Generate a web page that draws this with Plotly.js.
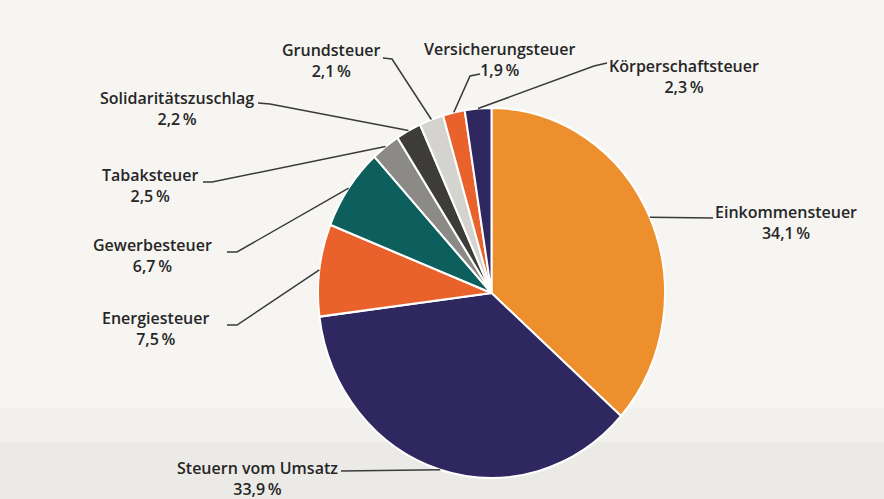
<!DOCTYPE html>
<html>
<head>
<meta charset="utf-8">
<script src="https://cdn.plot.ly/plotly-3.0.1.min.js"></script>
<style>
  html, body { margin: 0; padding: 0; background: #f6f5f2; }
  #chart { width: 884px; height: 499px; }
  #chart .pielayer { transform-origin: 491.5px 293px; transform: scaleY(1.066); }
</style>
</head>
<body>
<div id="chart"></div>
<script>
// ---- data (clockwise from 12 o'clock) ----
const categories = ['Einkommensteuer', 'Steuern vom Umsatz', 'Energiesteuer', 'Gewerbesteuer',
  'Tabaksteuer', 'Solidaritätszuschlag', 'Grundsteuer', 'Versicherungsteuer', 'Körperschaftsteuer'];
const shares = [34.1, 33.9, 7.5, 6.7, 2.5, 2.2, 2.1, 1.9, 2.3];
const shareLabels = ['34,1\u2009%', '33,9\u2009%', '7,5\u2009%', '6,7\u2009%', '2,5\u2009%', '2,2\u2009%', '2,1\u2009%', '1,9\u2009%', '2,3\u2009%'];

// ---- styling / layout ----
const colors = ['#ee8f2e', '#2f2860', '#e9622b', '#0d5f5d', '#8c8a87', '#3d3c3a', '#d4d3d0', '#e9622b', '#2f2860'];
const W = 884, H = 499;
const CX = 491.5, CY = 293, RX = 173.5, RY = 185;
// label block centre (px); leader-line start + knee (px)
const labelPos = [
  {x: 786, y: 222, s: [713, 218], k: [713, 218]},
  {x: 257, y: 478, s: [341, 471], k: [341, 471]},
  {x: 155, y: 328, s: [227, 325], k: [237, 325]},
  {x: 152, y: 256, s: [227, 252], k: [237, 252]},
  {x: 150, y: 186, s: [203, 182], k: [212, 182]},
  {x: 177, y: 108, s: [258, 103], k: [270, 104]},
  {x: 331, y: 60,  s: [383, 58],  k: [392, 59]},
  {x: 499, y: 59,  s: [480, 74],  k: [470, 76]},
  {x: 684, y: 76,  s: [607, 63],  k: [594, 66]}
];

const px = x => x / W;
const py = y => 1 - y / H;
const font = {family: 'Open Sans, sans-serif', size: 16, color: '#262626', weight: 600};

const total = shares.reduce((a, b) => a + b, 0);
let cum = 0;
const annotations = [];
const shapes = [
  {type: 'rect', xref: 'paper', yref: 'paper', x0: 0, x1: 1, y0: py(442), y1: py(408),
   fillcolor: '#f1f0ed', line: {width: 0}, layer: 'below'},
  {type: 'rect', xref: 'paper', yref: 'paper', x0: 0, x1: 1, y0: 0, y1: py(442),
   fillcolor: '#ebeae7', line: {width: 0}, layer: 'below'}
];
categories.forEach((c, i) => {
  const mid = (cum + shares[i] / 2) / total * 2 * Math.PI;
  cum += shares[i];
  const ex = CX + RX * Math.sin(mid);
  const ey = CY - RY * Math.cos(mid);
  const L = labelPos[i];
  shapes.push({
    type: 'path', xref: 'paper', yref: 'paper',
    path: `M ${px(L.s[0])},${py(L.s[1])} L ${px(L.k[0])},${py(L.k[1])} L ${px(ex)},${py(ey)}`,
    line: {color: '#3a3a3a', width: 1.5}
  });
  annotations.push({
    xref: 'paper', yref: 'paper', x: px(L.x), y: py(L.y),
    xanchor: 'center', yanchor: 'middle', align: 'center', showarrow: false,
    borderpad: 0,
    text: c + '<br>' + shareLabels[i], font: font
  });
});

const trace = {
  type: 'pie',
  labels: categories,
  values: shares,
  sort: false,
  direction: 'clockwise',
  rotation: 0,
  textinfo: 'none',
  hoverinfo: 'label+percent',
  marker: {colors: colors, line: {color: '#ffffff', width: 2}},
  domain: {x: [px(CX - RX), px(CX + RX)], y: [(H - CY - RX) / H, (H - CY + RX) / H]},
  showlegend: false
};

const layout = {
  width: W, height: H,
  margin: {l: 0, r: 0, t: 0, b: 0},
  paper_bgcolor: '#f6f5f2',
  showlegend: false,
  shapes: shapes,
  annotations: annotations
};

Plotly.newPlot('chart', [trace], layout, {displayModeBar: false, staticPlot: true});
</script>
</body>
</html>
